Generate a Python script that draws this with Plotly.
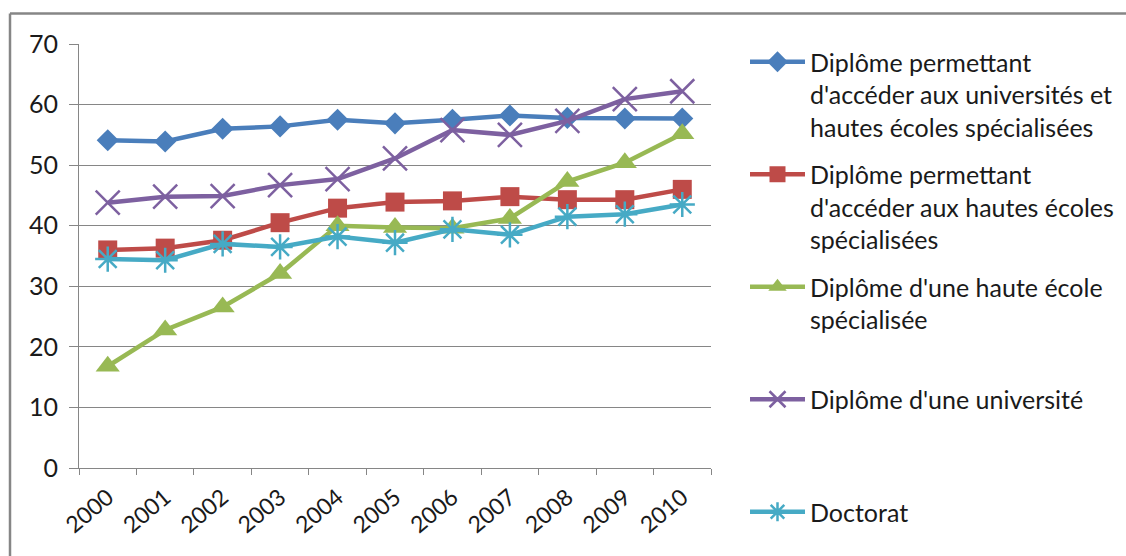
import plotly.graph_objects as go

# Years on the category axis
years = ["2000", "2001", "2002", "2003", "2004", "2005",
         "2006", "2007", "2008", "2009", "2010"]

# Series values
acces_uni_hes = [54.1, 53.9, 56.0, 56.4, 57.5, 56.9, 57.5, 58.2, 57.8, 57.7, 57.7]
acces_hes = [36.0, 36.3, 37.6, 40.5, 42.9, 43.9, 44.1, 44.8, 44.3, 44.3, 46.0]
diplome_hes = [16.8, 22.8, 26.6, 32.1, 40.0, 39.7, 39.6, 41.2, 47.3, 50.4, 55.2]
diplome_uni = [43.8, 44.8, 44.9, 46.7, 47.7, 51.1, 55.8, 55.0, 57.3, 60.9, 62.2]
doctorat = [34.5, 34.3, 37.0, 36.5, 38.2, 37.2, 39.4, 38.5, 41.5, 41.9, 43.5]

# Legend labels (padded to equal height so entries are evenly spaced)
names = [
    "Diplôme permettant<br>d'accéder aux universités et<br>hautes écoles spécialisées",
    "Diplôme permettant<br>d'accéder aux hautes écoles<br>spécialisées",
    "Diplôme d'une haute école<br>spécialisée<br> ",
    "Diplôme d'une université<br> <br> ",
    "Doctorat",
]

W, H = 1126, 556
L, R, T, B = 79, 711, 44, 468

series = [
    (acces_uni_hes, names[0], "#4A7EBB", dict(symbol="diamond", size=17)),
    (acces_hes, names[1], "#BE4B48", dict(symbol="square", size=19)),
    (diplome_hes, names[2], "#98B954", dict(symbol="triangle-up", size=21)),
    (diplome_uni, names[3], "#7D60A0", dict(symbol="x-thin-open", size=24,
                                            line=dict(width=2.5, color="#7D60A0"))),
    (doctorat, names[4], "#46AAC5", dict(symbol="asterisk-open", size=21,
                                         line=dict(width=2.5, color="#46AAC5"))),
]

fig = go.Figure()
for i, (vals, name, color, marker) in enumerate(series):
    fig.add_trace(go.Scatter(
        x=years, y=vals, name=name, mode="lines+markers",
        line=dict(color=color, width=4.5),
        marker=dict(color=color, **marker),
        legendgroup=f"g{i}",
    ))


def px_x(p):
    return (p - L) / (R - L)


def px_y(p):
    return (B - p) / (B - T)


grey = "#868686"
# Chart frame (top and left edges)
fig.add_shape(type="line", xref="paper", yref="paper",
              x0=px_x(10), x1=px_x(W + 5), y0=px_y(13.5), y1=px_y(13.5),
              line=dict(color=grey, width=2.5))
fig.add_shape(type="line", xref="paper", yref="paper",
              x0=px_x(10), x1=px_x(10), y0=px_y(13.5), y1=px_y(H + 5),
              line=dict(color=grey, width=2.5))

fig.update_layout(
    width=W, height=H,
    margin=dict(l=L, r=W - R, t=T, b=H - B, pad=0),
    paper_bgcolor="white", plot_bgcolor="white",
    font=dict(family="Lato", size=24, color="#1a1a1a"),
    showlegend=True,
    legend=dict(
        xref="container", yref="container",
        x=745 / W, y=1 - 39 / H, xanchor="left", yanchor="top",
        valign="top", itemwidth=55, tracegroupgap=12, maxheight=545,
        font=dict(family="Lato", size=25, color="#1a1a1a"),
        bgcolor="rgba(0,0,0,0)",
    ),
    xaxis=dict(
        type="category", range=[-0.5, 10.5], tickson="boundaries",
        ticks="outside", ticklen=6, tickcolor=grey, tickwidth=1,
        showline=True, linecolor=grey, linewidth=1, showgrid=False,
        tickangle=-40, tickfont=dict(size=23), ticklabelstandoff=6,
    ),
    yaxis=dict(
        range=[0, 70], dtick=10, tick0=0,
        showgrid=True, gridcolor=grey, gridwidth=1,
        ticks="outside", ticklen=9, tickcolor=grey, tickwidth=1,
        showline=True, linecolor=grey, linewidth=1, zeroline=False,
        tickfont=dict(size=25), ticklabelstandoff=6,
    ),
)

fig.write_html("out.html")
